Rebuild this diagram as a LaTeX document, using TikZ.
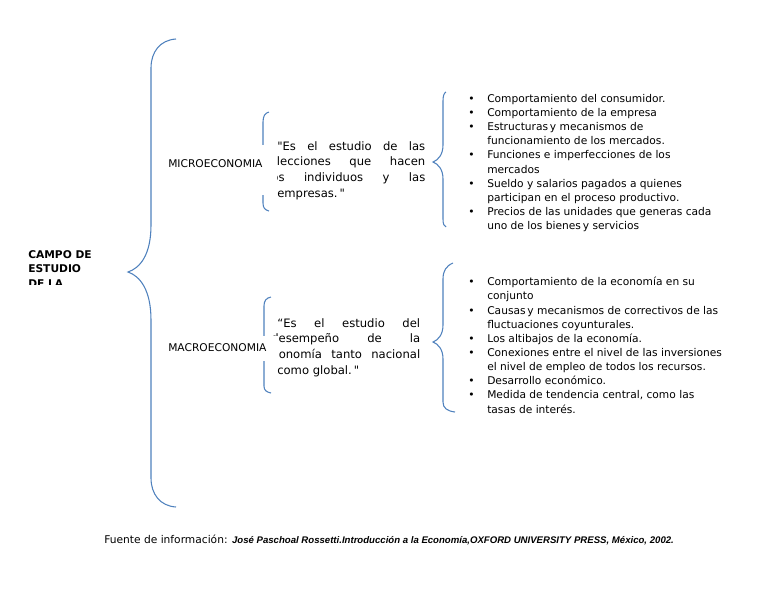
\documentclass[tikz,border=0pt]{standalone}
\usepackage{fontspec}
\setmainfont{DejaVu Sans}
\newfontfamily\arialfont{Liberation Sans}
\usepackage{xcolor}
\usetikzlibrary{positioning}
\definecolor{llavecol}{RGB}{79,129,189}

\tikzset{
  llave/.style={draw=llavecol, line width=0.8pt},
  tema/.style={fill=white, inner sep=0pt, anchor=base west, align=left, font=\fontsize{8}{10}\selectfont},
  cita/.style={inner sep=0pt, anchor=north west, align=justify, font=\fontsize{8.7}{11.8}\selectfont},
  lista/.style={inner sep=0pt, anchor=north west, align=left, font=\fontsize{8}{10.6}\selectfont}
}
\newcommand{\bul}{\llap{\textbullet\hspace{9.5pt}}}

\begin{document}
\begin{tikzpicture}[x=0.75pt, y=-0.75pt]
\useasboundingbox (0,0) rectangle (768,594);

% big brace
\draw[llave] (176,39) .. controls (160,40) and (151,52) .. (151,68) -- (151,225)
  .. controls (151,255) and (140,268) .. (128,272) .. controls (140,276) and (151,290) .. (151,320)
  -- (151,478) .. controls (151,494) and (160,506) .. (176,507);

% campo (cut at the bottom)
\begin{scope}
\clip (0,0) rectangle (125,284.5);
\node[inner sep=0pt, anchor=north west, align=left, font=\bfseries\fontsize{8}{10.9}\selectfont] (campo) at (28,250) {CAMPO DE\\ESTUDIO\\DE LA};
\end{scope}

% small braces
\draw[llave] (269,112) .. controls (265,113) and (263,116) .. (263,122) -- (263,150)
  .. controls (263,157) and (261,161) .. (258,162) .. controls (261,163) and (263,167) .. (263,174)
  -- (263,203) .. controls (263,208) and (265,210) .. (269,211);
\draw[llave] (271,297) .. controls (266,298) and (264,301) .. (264,306) -- (264,336)
  .. controls (264,343) and (262,346) .. (259,347) .. controls (262,348) and (264,351) .. (264,358)
  -- (264,386) .. controls (264,390) and (266,392) .. (271,393);
\draw[llave] (446,92) .. controls (444,93) and (443,96) .. (443,101) -- (443,145)
  .. controls (443,155) and (438,160) .. (433,162) .. controls (438,164) and (443,169) .. (443,179)
  -- (443,219) .. controls (443,224) and (444,226) .. (446,227);
\draw[llave] (453,263) .. controls (446,266) and (443,271) .. (443,279) -- (443,325)
  .. controls (443,335) and (438,340) .. (433,342) .. controls (438,344) and (443,349) .. (443,359)
  -- (443,402) .. controls (443,408) and (447,411) .. (455,412);

% quotes
\node[cita, text width=111pt] (citamicro) at (277,141)
  {\textquotedbl Es el estudio de las\linebreak\hspace*{-5.6pt}elecciones que hacen\linebreak\hspace*{-6.8pt}los individuos y las\linebreak empresas.\,\textquotedbl};
\node[cita, text width=107.2pt] (citamacro) at (277,318)
  {“Es el estudio del\linebreak\hspace*{-4.5pt}desempeño de la\linebreak\hspace*{-9pt}economía tanto nacional\linebreak como global.\,\textquotedbl};

% labels (white boxes hide part of brace and quote)
\node[tema, text width=81.75pt, text height=16.5pt, text depth=21pt] (micro) at (168,167) {MICROECONOMIA};
\node[tema, text width=83.25pt, text height=11.25pt, text depth=7.5pt] (macro) at (168,351) {MACROECONOMIA};

% lists
\node[lista] (listamicro) at (487,94) {\bul Comportamiento del consumidor.\\
\bul Comportamiento de la empresa\\
\bul Estructuras\,y mecanismos de\\
funcionamiento de los mercados.\\
\bul Funciones e imperfecciones de los\\
mercados\\
\bul Sueldo y salarios pagados a quienes\\
participan en el proceso productivo.\\
\bul Precios de las unidades que generas cada\\
uno de los bienes\,y servicios};
\node[lista] (listamacro) at (487,277) {\bul Comportamiento de la economía en su\\
conjunto\\
\bul Causas\,y mecanismos de correctivos de las\\
fluctuaciones coyunturales.\\
\bul Los altibajos de la economía.\\
\bul Conexiones entre el nivel de las inversiones\\
el nivel de empleo de todos los recursos.\\
\bul Desarrollo económico.\\
\bul Medida de tendencia central, como las\\
tasas de interés.};

% source
\node[inner sep=0pt, anchor=base west, font=\fontsize{8}{10}\selectfont] (fuente) at (104,543)
  {Fuente de información: {\arialfont\bfseries\itshape\fontsize{7.2}{9}\selectfont José Paschoal Rossetti.Introducción a la Economía,OXFORD UNIVERSITY PRESS, México, 2002.}};
\end{tikzpicture}
\end{document}
